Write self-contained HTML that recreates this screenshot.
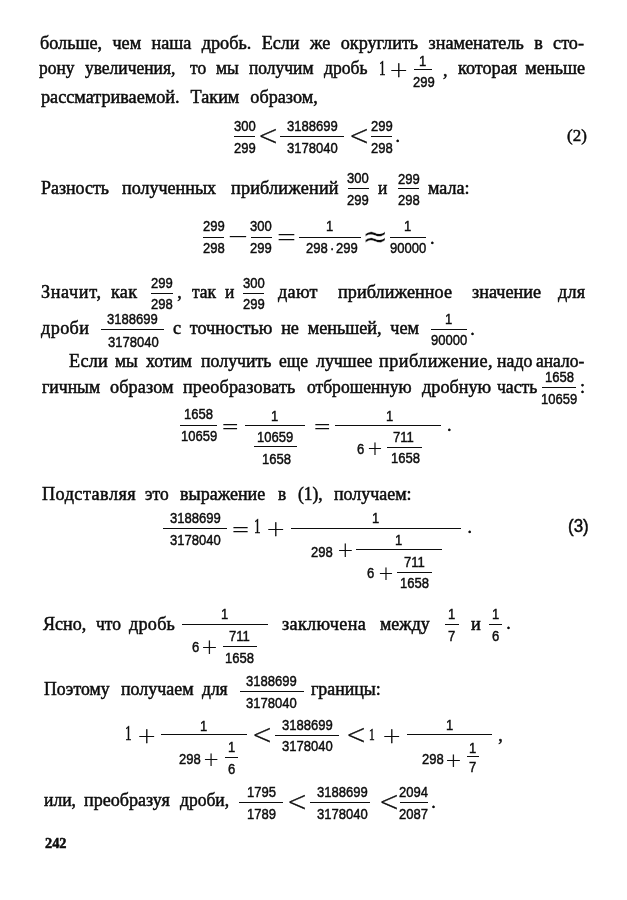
<!DOCTYPE html>
<html lang="ru"><head><meta charset="utf-8"><title>242</title>
<style>
html,body{margin:0;padding:0;background:#fff}
#p{position:relative;width:627px;height:900px;overflow:hidden;background:#fff;color:#0c0c0c;filter:blur(0.3px)}
#p span{position:absolute;white-space:pre;transform-origin:0 0;display:block}
.t{font-family:"Liberation Serif",serif;-webkit-text-stroke:0.5px #0c0c0c}
.a{font-family:"Liberation Sans",sans-serif;-webkit-text-stroke:0.45px #0c0c0c}
.d{font-family:"DejaVu Sans",sans-serif}
.b{-webkit-text-stroke:0.3px #0c0c0c}
.o{font-family:"Liberation Serif",serif}
.oa{font-family:"Liberation Sans",sans-serif}
.thin{-webkit-text-stroke:0.3px #fff}
.l{position:absolute;display:block;background:#0c0c0c}
</style></head><body><div id="p">
<span class="t" style="left:40.0px;top:34.00px;font-size:18px;line-height:18px;word-spacing:5.76px;transform:scaleX(1.0100)">больше, чем наша дробь. Если же округлить знаменатель в сто-</span>
<span class="t" style="left:39.4px;top:59.00px;font-size:18px;line-height:18px;transform:scaleX(0.9700)">рону</span>
<span class="t" style="left:84.9px;top:59.00px;font-size:18px;line-height:18px;transform:scaleX(0.9700)">увеличения,</span>
<span class="t" style="left:190.1px;top:59.00px;font-size:18px;line-height:18px;transform:scaleX(0.9700)">то</span>
<span class="t" style="left:215.6px;top:59.00px;font-size:18px;line-height:18px;transform:scaleX(0.9700)">мы</span>
<span class="t" style="left:248.6px;top:59.00px;font-size:18px;line-height:18px;transform:scaleX(0.9700)">получим</span>
<span class="t" style="left:324.0px;top:59.00px;font-size:18px;line-height:18px;transform:scaleX(0.9768)">дробь</span>
<span class="t" style="left:379.0px;top:58.00px;font-size:20px;line-height:20px;transform:scaleX(0.6600)">1</span>
<span class="d b" style="left:389.4px;top:58.37px;font-size:26.00px;line-height:26.00px;font-weight:200;transform:scale(0.893,0.844)">+</span>
<i class="l" style="left:413.6px;top:69px;width:18.4px;height:1.2px"></i>
<span class="a" style="left:418.7px;top:53.00px;font-size:15px;line-height:15px;transform:scaleX(0.870)">1</span>
<span class="a" style="left:412.7px;top:74.00px;font-size:15px;line-height:15px;transform:scaleX(0.870)">299</span>
<span class="t" style="left:443.0px;top:61.00px;font-size:18px;line-height:18px;transform:scaleX(1.0000)">,</span>
<span class="t" style="left:458.0px;top:59.00px;font-size:18px;line-height:18px;word-spacing:3.68px;transform:scaleX(1.0100)">которая меньше</span>
<span class="t" style="left:40.5px;top:88.00px;font-size:18px;line-height:18px;word-spacing:6.36px;transform:scaleX(1.0100)">рассматриваемой. Таким образом,</span>
<i class="l" style="left:233.5px;top:136px;width:21.7px;height:1.2px"></i>
<span class="a" style="left:233.5px;top:118.00px;font-size:15px;line-height:15px;transform:scaleX(0.870)">300</span>
<span class="a" style="left:233.5px;top:140.00px;font-size:15px;line-height:15px;transform:scaleX(0.870)">299</span>
<span class="d b" style="left:258.3px;top:121.93px;font-size:26.00px;line-height:26.00px;font-weight:200;transform:scale(0.931,1.068)">&lt;</span>
<i class="l" style="left:280.0px;top:136px;width:63.8px;height:1.2px"></i>
<span class="a" style="left:286.5px;top:118.00px;font-size:15px;line-height:15px;transform:scaleX(0.870)">3188699</span>
<span class="a" style="left:286.5px;top:140.00px;font-size:15px;line-height:15px;transform:scaleX(0.870)">3178040</span>
<span class="d b" style="left:348.6px;top:121.93px;font-size:26.00px;line-height:26.00px;font-weight:200;transform:scale(0.931,1.068)">&lt;</span>
<i class="l" style="left:370.8px;top:136px;width:21.4px;height:1.2px"></i>
<span class="a" style="left:370.6px;top:118.00px;font-size:15px;line-height:15px;transform:scaleX(0.870)">299</span>
<span class="a" style="left:370.6px;top:140.00px;font-size:15px;line-height:15px;transform:scaleX(0.870)">298</span>
<span class="t" style="left:395.5px;top:127.00px;font-size:18px;line-height:18px;transform:scaleX(1.0000)">.</span>
<span class="t" style="left:566.5px;top:127.00px;font-size:17.5px;line-height:17.5px;transform:scaleX(0.9700)">(2)</span>
<span class="t" style="left:41.2px;top:179.00px;font-size:18px;line-height:18px;transform:scaleX(0.9961)">Разность</span>
<span class="t" style="left:121.5px;top:179.00px;font-size:18px;line-height:18px;transform:scaleX(1.0034)">полученных</span>
<span class="t" style="left:231.2px;top:179.00px;font-size:18px;line-height:18px;letter-spacing:0.18px;transform:scaleX(1.0100)">приближений</span>
<i class="l" style="left:347.5px;top:188px;width:21.2px;height:1.2px"></i>
<span class="a" style="left:347.2px;top:170.00px;font-size:15px;line-height:15px;transform:scaleX(0.870)">300</span>
<span class="a" style="left:347.2px;top:192.00px;font-size:15px;line-height:15px;transform:scaleX(0.870)">299</span>
<span class="t" style="left:378.4px;top:179.00px;font-size:18px;line-height:18px;transform:scaleX(0.9700)">и</span>
<i class="l" style="left:398.4px;top:188px;width:21.0px;height:1.2px"></i>
<span class="a" style="left:398.0px;top:171.00px;font-size:15px;line-height:15px;transform:scaleX(0.870)">299</span>
<span class="a" style="left:398.0px;top:192.00px;font-size:15px;line-height:15px;transform:scaleX(0.870)">298</span>
<span class="t" style="left:428.0px;top:179.00px;font-size:18px;line-height:18px;transform:scaleX(1.0026)">мала:</span>
<i class="l" style="left:202.8px;top:237px;width:21.5px;height:1.2px"></i>
<span class="a" style="left:202.7px;top:218.00px;font-size:15px;line-height:15px;transform:scaleX(0.870)">299</span>
<span class="a" style="left:202.7px;top:240.00px;font-size:15px;line-height:15px;transform:scaleX(0.870)">298</span>
<span class="d" style="left:226.8px;top:221.40px;font-size:26.00px;line-height:26.00px;font-weight:200;transform:scale(1.007,1.154)">−</span>
<i class="l" style="left:250.5px;top:237px;width:21.5px;height:1.2px"></i>
<span class="a" style="left:250.4px;top:218.00px;font-size:15px;line-height:15px;transform:scaleX(0.870)">300</span>
<span class="a" style="left:250.4px;top:240.00px;font-size:15px;line-height:15px;transform:scaleX(0.870)">299</span>
<span class="d" style="left:275.9px;top:219.81px;font-size:26.00px;line-height:26.00px;font-weight:200;transform:scale(0.962,1.269)">=</span>
<i class="l" style="left:298.6px;top:237px;width:62.4px;height:1.2px"></i>
<span class="a" style="left:326.2px;top:218.00px;font-size:15px;line-height:15px;transform:scaleX(0.870)">1</span>
<span class="a" style="left:306.3px;top:240.00px;font-size:15px;line-height:15px;transform:scaleX(0.870)">298</span>
<span class="a" style="left:329.6px;top:240.00px;font-size:15px;line-height:15px;transform:scaleX(0.870)">·</span>
<span class="a" style="left:335.6px;top:240.00px;font-size:15px;line-height:15px;transform:scaleX(0.870)">299</span>
<span class="d thin" style="left:362.0px;top:220.80px;font-size:24.00px;line-height:24.00px;transform:scale(1.310,1.310)">≈</span>
<i class="l" style="left:389.6px;top:237px;width:36.2px;height:1.2px"></i>
<span class="a" style="left:403.9px;top:218.00px;font-size:15px;line-height:15px;transform:scaleX(0.870)">1</span>
<span class="a" style="left:389.6px;top:240.00px;font-size:15px;line-height:15px;transform:scaleX(0.870)">90000</span>
<span class="t" style="left:430.0px;top:229.00px;font-size:18px;line-height:18px;transform:scaleX(1.0000)">.</span>
<span class="t" style="left:40.5px;top:283.00px;font-size:18px;line-height:18px;letter-spacing:0.63px;transform:scaleX(1.0100)">Значит,</span>
<span class="t" style="left:111.0px;top:283.00px;font-size:18px;line-height:18px;letter-spacing:0.26px;transform:scaleX(1.0100)">как</span>
<i class="l" style="left:151.2px;top:293px;width:21.8px;height:1.2px"></i>
<span class="a" style="left:151.2px;top:275.00px;font-size:15px;line-height:15px;transform:scaleX(0.870)">299</span>
<span class="a" style="left:151.2px;top:296.00px;font-size:15px;line-height:15px;transform:scaleX(0.870)">298</span>
<span class="t" style="left:177.3px;top:283.00px;font-size:18px;line-height:18px;transform:scaleX(1.0000)">,</span>
<span class="t" style="left:191.8px;top:283.00px;font-size:18px;line-height:18px;transform:scaleX(0.9707)">так</span>
<span class="t" style="left:225.1px;top:283.00px;font-size:18px;line-height:18px;transform:scaleX(0.9700)">и</span>
<i class="l" style="left:242.7px;top:293px;width:21.3px;height:1.2px"></i>
<span class="a" style="left:242.5px;top:275.00px;font-size:15px;line-height:15px;transform:scaleX(0.870)">300</span>
<span class="a" style="left:242.5px;top:296.00px;font-size:15px;line-height:15px;transform:scaleX(0.870)">299</span>
<span class="t" style="left:278.0px;top:283.00px;font-size:18px;line-height:18px;letter-spacing:0.29px;transform:scaleX(1.0100)">дают</span>
<span class="t" style="left:338.0px;top:283.00px;font-size:18px;line-height:18px;letter-spacing:0.06px;transform:scaleX(1.0100)">приближенное</span>
<span class="t" style="left:472.0px;top:283.00px;font-size:18px;line-height:18px;letter-spacing:0.00px;transform:scaleX(1.0100)">значение</span>
<span class="t" style="left:558.0px;top:283.00px;font-size:18px;line-height:18px;letter-spacing:0.25px;transform:scaleX(1.0100)">для</span>
<span class="t" style="left:40.5px;top:319.00px;font-size:18px;line-height:18px;letter-spacing:0.39px;transform:scaleX(1.0100)">дроби</span>
<i class="l" style="left:100.7px;top:329px;width:63.2px;height:1.2px"></i>
<span class="a" style="left:107.2px;top:311.00px;font-size:15px;line-height:15px;transform:scaleX(0.870)">3188699</span>
<span class="a" style="left:107.6px;top:334.00px;font-size:15px;line-height:15px;transform:scaleX(0.870)">3178040</span>
<span class="t" style="left:173.0px;top:319.00px;font-size:18px;line-height:18px;word-spacing:4.13px;transform:scaleX(1.0100)">с точностью не меньшей, чем</span>
<i class="l" style="left:430.7px;top:329px;width:36.2px;height:1.2px"></i>
<span class="a" style="left:445.2px;top:311.00px;font-size:15px;line-height:15px;transform:scaleX(0.870)">1</span>
<span class="a" style="left:430.7px;top:332.00px;font-size:15px;line-height:15px;transform:scaleX(0.870)">90000</span>
<span class="t" style="left:470.3px;top:320.00px;font-size:18px;line-height:18px;transform:scaleX(1.0000)">.</span>
<span class="t" style="left:68.9px;top:352.00px;font-size:18px;line-height:18px;letter-spacing:0.27px;transform:scaleX(1.0100)">Если</span>
<span class="t" style="left:114.9px;top:352.00px;font-size:18px;line-height:18px;transform:scaleX(0.9700)">мы</span>
<span class="t" style="left:145.6px;top:352.00px;font-size:18px;line-height:18px;transform:scaleX(0.9985)">хотим</span>
<span class="t" style="left:200.8px;top:352.00px;font-size:18px;line-height:18px;transform:scaleX(0.9910)">получить</span>
<span class="t" style="left:279.2px;top:352.00px;font-size:18px;line-height:18px;transform:scaleX(0.9700)">еще</span>
<span class="t" style="left:315.7px;top:352.00px;font-size:18px;line-height:18px;transform:scaleX(0.9934)">лучшее</span>
<span class="t" style="left:378.5px;top:352.00px;font-size:18px;line-height:18px;letter-spacing:0.44px;transform:scaleX(1.0100)">приближение,</span>
<span class="t" style="left:497.0px;top:352.00px;font-size:18px;line-height:18px;transform:scaleX(0.9866)">надо</span>
<span class="t" style="left:536.0px;top:352.00px;font-size:18px;line-height:18px;transform:scaleX(0.9700)">анало-</span>
<span class="t" style="left:41.5px;top:378.00px;font-size:18px;line-height:18px;transform:scaleX(0.9833)">гичным</span>
<span class="t" style="left:109.8px;top:378.00px;font-size:18px;line-height:18px;letter-spacing:0.13px;transform:scaleX(1.0100)">образом</span>
<span class="t" style="left:183.1px;top:378.00px;font-size:18px;line-height:18px;letter-spacing:0.13px;transform:scaleX(1.0100)">преобразовать</span>
<span class="t" style="left:307.1px;top:378.00px;font-size:18px;line-height:18px;transform:scaleX(0.9743)">отброшенную</span>
<span class="t" style="left:421.8px;top:378.00px;font-size:18px;line-height:18px;letter-spacing:0.02px;transform:scaleX(1.0100)">дробную</span>
<span class="t" style="left:497.0px;top:378.00px;font-size:18px;line-height:18px;transform:scaleX(0.9803)">часть</span>
<i class="l" style="left:542.3px;top:387px;width:33.7px;height:1.2px"></i>
<span class="a" style="left:544.6px;top:369.00px;font-size:15px;line-height:15px;transform:scaleX(0.870)">1658</span>
<span class="a" style="left:541.0px;top:391.00px;font-size:15px;line-height:15px;transform:scaleX(0.870)">10659</span>
<span class="t" style="left:580.0px;top:378.00px;font-size:18px;line-height:18px;transform:scaleX(1.0100)">:</span>
<i class="l" style="left:180.0px;top:425px;width:36.5px;height:1.2px"></i>
<span class="a" style="left:183.7px;top:406.00px;font-size:15px;line-height:15px;transform:scaleX(0.870)">1658</span>
<span class="a" style="left:181.3px;top:428.00px;font-size:15px;line-height:15px;transform:scaleX(0.870)">10659</span>
<span class="d" style="left:221.0px;top:410.56px;font-size:26.00px;line-height:26.00px;font-weight:200;transform:scale(0.844,1.077)">=</span>
<i class="l" style="left:244.5px;top:425px;width:60.5px;height:1.2px"></i>
<span class="a" style="left:271.4px;top:408.00px;font-size:15px;line-height:15px;transform:scaleX(0.870)">1</span>
<i class="l" style="left:254.0px;top:446px;width:42.9px;height:1.2px"></i>
<span class="a" style="left:256.7px;top:429.00px;font-size:15px;line-height:15px;transform:scaleX(0.870)">10659</span>
<span class="a" style="left:261.8px;top:451.00px;font-size:15px;line-height:15px;transform:scaleX(0.870)">1658</span>
<span class="d" style="left:312.6px;top:410.56px;font-size:26.00px;line-height:26.00px;font-weight:200;transform:scale(0.844,1.077)">=</span>
<i class="l" style="left:334.6px;top:425px;width:106.3px;height:1.2px"></i>
<span class="a" style="left:385.7px;top:408.00px;font-size:15px;line-height:15px;transform:scaleX(0.870)">1</span>
<span class="a" style="left:356.9px;top:441.00px;font-size:15px;line-height:15px;transform:scaleX(0.870)">6</span>
<span class="d b" style="left:366.9px;top:438.20px;font-size:26.00px;line-height:26.00px;font-weight:200;transform:scale(0.732,0.769)">+</span>
<i class="l" style="left:387.0px;top:447px;width:35.3px;height:1.2px"></i>
<span class="a" style="left:393.2px;top:429.00px;font-size:15px;line-height:15px;transform:scaleX(0.870)">711</span>
<span class="a" style="left:390.5px;top:450.00px;font-size:15px;line-height:15px;transform:scaleX(0.870)">1658</span>
<span class="t" style="left:447.0px;top:416.00px;font-size:18px;line-height:18px;transform:scaleX(1.0000)">.</span>
<span class="t" style="left:41.8px;top:485.00px;font-size:18px;line-height:18px;letter-spacing:0.47px;transform:scaleX(1.0100)">Подставляя</span>
<span class="t" style="left:145.4px;top:485.00px;font-size:18px;line-height:18px;transform:scaleX(0.9700)">это</span>
<span class="t" style="left:180.0px;top:485.00px;font-size:18px;line-height:18px;transform:scaleX(1.0032)">выражение</span>
<span class="t" style="left:278.0px;top:485.00px;font-size:18px;line-height:18px;transform:scaleX(0.9700)">в</span>
<span class="t" style="left:297.5px;top:485.00px;font-size:18px;line-height:18px;transform:scaleX(0.9700)">(1),</span>
<span class="t" style="left:334.2px;top:485.00px;font-size:18px;line-height:18px;transform:scaleX(0.9973)">получаем:</span>
<i class="l" style="left:163.0px;top:528px;width:63.8px;height:1.2px"></i>
<span class="a" style="left:169.5px;top:510.00px;font-size:15px;line-height:15px;transform:scaleX(0.870)">3188699</span>
<span class="a" style="left:169.5px;top:532.00px;font-size:15px;line-height:15px;transform:scaleX(0.870)">3178040</span>
<span class="d" style="left:231.2px;top:512.93px;font-size:26.00px;line-height:26.00px;font-weight:200;transform:scale(0.875,1.115)">=</span>
<span class="t" style="left:254.2px;top:516.00px;font-size:20px;line-height:20px;transform:scaleX(0.6600)">1</span>
<span class="d b" style="left:265.6px;top:516.67px;font-size:26.00px;line-height:26.00px;font-weight:200;transform:scale(0.893,0.844)">+</span>
<i class="l" style="left:291.4px;top:528px;width:170.1px;height:1.2px"></i>
<span class="a" style="left:372.2px;top:510.00px;font-size:15px;line-height:15px;transform:scaleX(0.870)">1</span>
<span class="a" style="left:311.4px;top:544.00px;font-size:15px;line-height:15px;transform:scaleX(0.870)">298</span>
<span class="d b" style="left:336.6px;top:540.43px;font-size:26.00px;line-height:26.00px;font-weight:200;transform:scale(0.769,0.782)">+</span>
<i class="l" style="left:356.4px;top:549px;width:85.6px;height:1.2px"></i>
<span class="a" style="left:394.5px;top:532.00px;font-size:15px;line-height:15px;transform:scaleX(0.870)">1</span>
<span class="a" style="left:367.4px;top:565.00px;font-size:15px;line-height:15px;transform:scaleX(0.870)">6</span>
<span class="d b" style="left:377.7px;top:563.30px;font-size:26.00px;line-height:26.00px;font-weight:200;transform:scale(0.732,0.769)">+</span>
<i class="l" style="left:396.5px;top:572px;width:35.0px;height:1.2px"></i>
<span class="a" style="left:403.6px;top:554.00px;font-size:15px;line-height:15px;transform:scaleX(0.870)">711</span>
<span class="a" style="left:399.5px;top:575.00px;font-size:15px;line-height:15px;transform:scaleX(0.870)">1658</span>
<span class="t" style="left:467.5px;top:518.00px;font-size:18px;line-height:18px;transform:scaleX(1.0000)">.</span>
<span class="a" style="left:567.5px;top:518.00px;font-size:17.5px;line-height:17.5px;transform:scaleX(0.9700)">(3)</span>
<span class="t" style="left:42.8px;top:615.00px;font-size:18px;line-height:18px;transform:scaleX(1.0014)">Ясно,</span>
<span class="t" style="left:95.9px;top:615.00px;font-size:18px;line-height:18px;transform:scaleX(0.9700)">что</span>
<span class="t" style="left:128.8px;top:615.00px;font-size:18px;line-height:18px;letter-spacing:0.23px;transform:scaleX(1.0100)">дробь</span>
<i class="l" style="left:182.4px;top:624px;width:85.2px;height:1.2px"></i>
<span class="a" style="left:221.4px;top:606.00px;font-size:15px;line-height:15px;transform:scaleX(0.870)">1</span>
<span class="a" style="left:191.8px;top:639.00px;font-size:15px;line-height:15px;transform:scaleX(0.870)">6</span>
<span class="d b" style="left:201.3px;top:637.23px;font-size:26.00px;line-height:26.00px;font-weight:200;transform:scale(0.775,0.782)">+</span>
<i class="l" style="left:222.6px;top:646px;width:34.5px;height:1.2px"></i>
<span class="a" style="left:229.4px;top:628.00px;font-size:15px;line-height:15px;transform:scaleX(0.870)">711</span>
<span class="a" style="left:225.3px;top:650.00px;font-size:15px;line-height:15px;transform:scaleX(0.870)">1658</span>
<span class="t" style="left:281.6px;top:615.00px;font-size:18px;line-height:18px;letter-spacing:0.34px;transform:scaleX(1.0100)">заключена</span>
<span class="t" style="left:380.0px;top:615.00px;font-size:18px;line-height:18px;transform:scaleX(0.9943)">между</span>
<i class="l" style="left:444.5px;top:624px;width:14.3px;height:1.2px"></i>
<span class="a" style="left:448.0px;top:606.00px;font-size:15px;line-height:15px;transform:scaleX(0.870)">1</span>
<span class="a" style="left:448.0px;top:628.00px;font-size:15px;line-height:15px;transform:scaleX(0.870)">7</span>
<span class="t" style="left:470.5px;top:615.00px;font-size:18px;line-height:18px;transform:scaleX(1.0100)">и</span>
<i class="l" style="left:488.7px;top:624px;width:13.7px;height:1.2px"></i>
<span class="a" style="left:491.9px;top:606.00px;font-size:15px;line-height:15px;transform:scaleX(0.870)">1</span>
<span class="a" style="left:491.9px;top:628.00px;font-size:15px;line-height:15px;transform:scaleX(0.870)">6</span>
<span class="t" style="left:506.3px;top:614.00px;font-size:18px;line-height:18px;transform:scaleX(1.0000)">.</span>
<span class="t" style="left:43.7px;top:680.00px;font-size:18px;line-height:18px;transform:scaleX(0.9831)">Поэтому</span>
<span class="t" style="left:120.8px;top:680.00px;font-size:18px;line-height:18px;transform:scaleX(0.9971)">получаем</span>
<span class="t" style="left:201.7px;top:680.00px;font-size:18px;line-height:18px;transform:scaleX(0.9700)">для</span>
<i class="l" style="left:239.9px;top:691px;width:63.7px;height:1.2px"></i>
<span class="a" style="left:246.3px;top:673.00px;font-size:15px;line-height:15px;transform:scaleX(0.870)">3188699</span>
<span class="a" style="left:246.3px;top:695.00px;font-size:15px;line-height:15px;transform:scaleX(0.870)">3178040</span>
<span class="t" style="left:310.6px;top:680.00px;font-size:18px;line-height:18px;transform:scaleX(0.9904)">границы:</span>
<span class="t" style="left:125.3px;top:723.00px;font-size:20px;line-height:20px;transform:scaleX(0.6600)">1</span>
<span class="d b" style="left:136.5px;top:723.77px;font-size:26.00px;line-height:26.00px;font-weight:200;transform:scale(0.893,0.844)">+</span>
<i class="l" style="left:161.3px;top:734px;width:85.5px;height:1.2px"></i>
<span class="a" style="left:200.1px;top:718.00px;font-size:15px;line-height:15px;transform:scaleX(0.870)">1</span>
<span class="a" style="left:178.7px;top:751.00px;font-size:15px;line-height:15px;transform:scaleX(0.870)">298</span>
<span class="d b" style="left:203.4px;top:748.80px;font-size:26.00px;line-height:26.00px;font-weight:200;transform:scale(0.744,0.769)">+</span>
<i class="l" style="left:224.6px;top:757px;width:13.3px;height:1.2px"></i>
<span class="a" style="left:227.6px;top:739.00px;font-size:15px;line-height:15px;transform:scaleX(0.870)">1</span>
<span class="a" style="left:227.6px;top:761.00px;font-size:15px;line-height:15px;transform:scaleX(0.870)">6</span>
<span class="d b" style="left:252.2px;top:721.03px;font-size:26.00px;line-height:26.00px;font-weight:200;transform:scale(0.931,1.068)">&lt;</span>
<i class="l" style="left:275.4px;top:735px;width:63.4px;height:1.2px"></i>
<span class="a" style="left:281.7px;top:717.00px;font-size:15px;line-height:15px;transform:scaleX(0.870)">3188699</span>
<span class="a" style="left:281.7px;top:738.00px;font-size:15px;line-height:15px;transform:scaleX(0.870)">3178040</span>
<span class="d b" style="left:345.6px;top:721.03px;font-size:26.00px;line-height:26.00px;font-weight:200;transform:scale(0.931,1.068)">&lt;</span>
<span class="t" style="left:369.0px;top:727.00px;font-size:15.8px;line-height:15.8px;transform:scaleX(0.7200)">1</span>
<span class="d b" style="left:382.1px;top:724.17px;font-size:26.00px;line-height:26.00px;font-weight:200;transform:scale(0.893,0.844)">+</span>
<i class="l" style="left:407.3px;top:734px;width:85.1px;height:1.2px"></i>
<span class="a" style="left:445.9px;top:717.00px;font-size:15px;line-height:15px;transform:scaleX(0.870)">1</span>
<span class="a" style="left:421.7px;top:751.00px;font-size:15px;line-height:15px;transform:scaleX(0.870)">298</span>
<span class="d b" style="left:444.6px;top:749.60px;font-size:26.00px;line-height:26.00px;font-weight:200;transform:scale(0.775,0.769)">+</span>
<i class="l" style="left:467.0px;top:756px;width:11.8px;height:1.2px"></i>
<span class="a" style="left:469.3px;top:740.00px;font-size:15px;line-height:15px;transform:scaleX(0.870)">1</span>
<span class="a" style="left:469.3px;top:759.00px;font-size:15px;line-height:15px;transform:scaleX(0.870)">7</span>
<span class="t" style="left:498.3px;top:726.00px;font-size:18px;line-height:18px;transform:scaleX(1.0000)">,</span>
<span class="t" style="left:43.6px;top:791.00px;font-size:18px;line-height:18px;transform:scaleX(0.9771)">или,</span>
<span class="t" style="left:84.3px;top:791.00px;font-size:18px;line-height:18px;transform:scaleX(1.0053)">преобразуя</span>
<span class="t" style="left:179.6px;top:791.00px;font-size:18px;line-height:18px;transform:scaleX(0.9712)">дроби,</span>
<i class="l" style="left:238.8px;top:802px;width:44.2px;height:1.2px"></i>
<span class="a" style="left:247.1px;top:784.00px;font-size:15px;line-height:15px;transform:scaleX(0.870)">1795</span>
<span class="a" style="left:247.1px;top:806.00px;font-size:15px;line-height:15px;transform:scaleX(0.870)">1789</span>
<span class="d b" style="left:286.6px;top:787.83px;font-size:26.00px;line-height:26.00px;font-weight:200;transform:scale(0.931,1.068)">&lt;</span>
<i class="l" style="left:309.8px;top:802px;width:60.2px;height:1.2px"></i>
<span class="a" style="left:317.0px;top:784.00px;font-size:15px;line-height:15px;transform:scaleX(0.870)">3188699</span>
<span class="a" style="left:317.0px;top:806.00px;font-size:15px;line-height:15px;transform:scaleX(0.870)">3178040</span>
<span class="d b" style="left:378.6px;top:787.83px;font-size:26.00px;line-height:26.00px;font-weight:200;transform:scale(0.931,1.068)">&lt;</span>
<i class="l" style="left:399.6px;top:802px;width:28.4px;height:1.2px"></i>
<span class="a" style="left:399.3px;top:784.00px;font-size:15px;line-height:15px;transform:scaleX(0.870)">2094</span>
<span class="a" style="left:399.3px;top:806.00px;font-size:15px;line-height:15px;transform:scaleX(0.870)">2087</span>
<span class="t" style="left:431.2px;top:793.00px;font-size:18px;line-height:18px;transform:scaleX(1.0000)">.</span>
<span class="t" style="left:44.9px;top:836.00px;font-size:14.8px;line-height:14.8px;font-weight:700;transform:scaleX(0.9700)">242</span>
</div></body></html>
